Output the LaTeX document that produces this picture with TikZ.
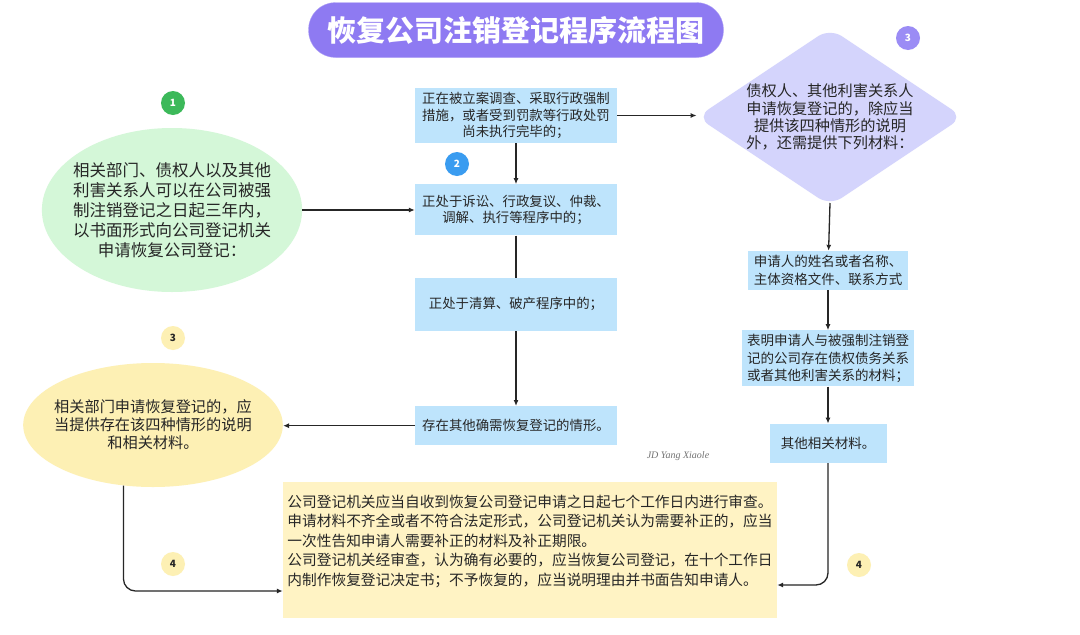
\documentclass[tikz,border=0pt]{standalone}
\usepackage{fontspec}
\setmainfont{Noto Sans CJK SC}
\newfontfamily\signfont{Liberation Serif}
\usetikzlibrary{positioning}
\usetikzlibrary{positioning,shapes,arrows.meta}

\definecolor{titlebg}{RGB}{142,122,242}
\definecolor{greenbg}{RGB}{212,247,216}
\definecolor{greenbadge}{RGB}{60,185,90}
\definecolor{bluebg}{RGB}{190,228,252}
\definecolor{bluebadge}{RGB}{58,156,240}
\definecolor{lilacbg}{RGB}{212,212,252}
\definecolor{lilacbadge}{RGB}{155,140,245}
\definecolor{yellowbg}{RGB}{253,240,180}
\definecolor{notebg}{RGB}{255,243,196}

\begin{document}
\begin{tikzpicture}[x=1pt, y=-1pt,
      every node/.style={align=center, text=black!85},
      box/.style={fill=bluebg, minimum width=202pt, inner sep=2pt,
                  font=\fontsize{13.4}{16.2}\selectfont},
      rbox/.style={fill=bluebg, inner sep=3pt,
                  font=\fontsize{13.5}{17.5}\selectfont},
      badge/.style={circle, minimum size=24pt, inner sep=0pt,
                  font=\fontsize{10}{12}\selectfont\bfseries},
      arrow/.style={-{Latex[length=6pt, width=5pt]}, line width=1.3pt, black!85},
  ]
    \fill[white] (0,0) rectangle (1080,635);
    \useasboundingbox (0,0) rectangle (1080,635);

    % Title
    \node[fill=titlebg, draw=titlebg!70, rounded corners=27pt, minimum width=415pt,
          minimum height=55pt, text=white, font=\fontsize{29}{29}\selectfont\bfseries]
      (title) at (516,30) {恢复公司注销登记程序流程图};

    % Column 1: applicants
    \node[ellipse, fill=greenbg, minimum height=164pt, inner xsep=-7pt, inner ysep=0pt,
          font=\fontsize{16.5}{20}\selectfont] (appl) at (172,210)
      {相关部门、债权人以及其他\\利害关系人可以在公司被强\\制注销登记之日起三年内，\\以书面形式向公司登记机关\\申请恢复公司登记：};
    \node[badge, fill=greenbadge, text=white] (n1) at (173,103) {1};

    \node[ellipse, fill=yellowbg, minimum height=124pt, inner xsep=-7pt, inner ysep=0pt,
          font=\fontsize{15.2}{18}\selectfont] (dept) at (153,425)
      {相关部门申请恢复登记的，应\\当提供存在该四种情形的说明\\和相关材料。};
    \node[badge, fill=yellowbg] (n3a) at (173,338) {3};

    % Column 2: the four situations
    \node[box, minimum height=55pt] (inv) at (516,115.5)
      {正在被立案调查、采取行政强制\\措施，或者受到罚款等行政处罚\\尚未执行完毕的；};
    \node[box, minimum height=51pt, below=41pt of inv] (lit)
      {正处于诉讼、行政复议、仲裁、\\调解、执行等程序中的；};
    \node[box, minimum height=53pt, below=42pt of lit] (liq)
      {正处于清算、破产程序中的；};
    \node[box, minimum height=39pt, below=75pt of liq] (oth)
      {存在其他确需恢复登记的情形。};
    \node[badge, fill=bluebadge, text=white] (n2) at (457,164) {2};

    \draw[arrow] (inv) -- (lit);
    \draw[line width=1.3pt, black!85] (lit) -- (liq);
    \draw[arrow] (liq) -- (oth);
    \draw[arrow] (appl.east) -- (appl.east -| lit.west);
    \draw[arrow] (oth.west) -- (oth.west -| dept.east);

    % Column 3: creditors and their materials
    \node[diamond, aspect=1.5, inner sep=0pt, fill=lilacbg, rounded corners=14pt,
          font=\fontsize{15.2}{17.2}\selectfont] (cred) at (830,117)
      {债权人、其他利害关系人\\申请恢复登记的，除应当\\提供该四种情形的说明\\外，还需提供下列材料：};
    \node[badge, fill=lilacbadge, text=white] (n3b) at (908,38) {3};
    \draw[arrow] (inv.east) -- (inv.east -| cred.west);

    \node[rbox, minimum width=160pt, minimum height=39pt] (name) at (828,270.5)
      {申请人的姓名或者名称、\\主体资格文件、联系方式};
    \node[rbox, minimum width=172pt, minimum height=56pt, below=40pt of name] (proof)
      {表明申请人与被强制注销登\\记的公司存在债权债务关系\\或者其他利害关系的材料；};
    \node[rbox, minimum width=117pt, minimum height=39pt, below=37pt of proof] (misc)
      {其他相关材料。};
    \draw[arrow] (cred.south |- 0,203) -- (name);
    \draw[arrow] (name) -- (proof);
    \draw[arrow] (proof) -- (misc);

    % Bottom: review by the registration authority
    \node[fill=notebg, minimum width=494pt, minimum height=136pt, inner sep=3pt,
          align=left, font=\fontsize{14.7}{19.5}\selectfont] (review) at (530,550)
      {公司登记机关应当自收到恢复公司登记申请之日起七个工作日内进行审查。\\
       申请材料不齐全或者不符合法定形式，公司登记机关认为需要补正的，应当\\
       一次性告知申请人需要补正的材料及补正期限。\\
       公司登记机关经审查，认为确有必要的，应当恢复公司登记，在十个工作日\\
       内制作恢复登记决定书；不予恢复的，应当说明理由并书面告知申请人。\\ \mbox{}};
    \node[badge, fill=yellowbg] (n4a) at (173,564) {4};
    \node[badge, fill=yellowbg] (n4b) at (859,565) {4};

    \draw[arrow, rounded corners=12pt] (dept.-116) |- ([yshift=-41pt]review.west);
    \draw[arrow, rounded corners=12pt] (misc.south) |- ([yshift=-35pt]review.east);

    % signature
    \node[text=black!55, font=\signfont\fontsize{10}{11}\selectfont\itshape] (sign)
      at (678,456) {JD Yang Xiaole};
  \end{tikzpicture}
\end{document}
